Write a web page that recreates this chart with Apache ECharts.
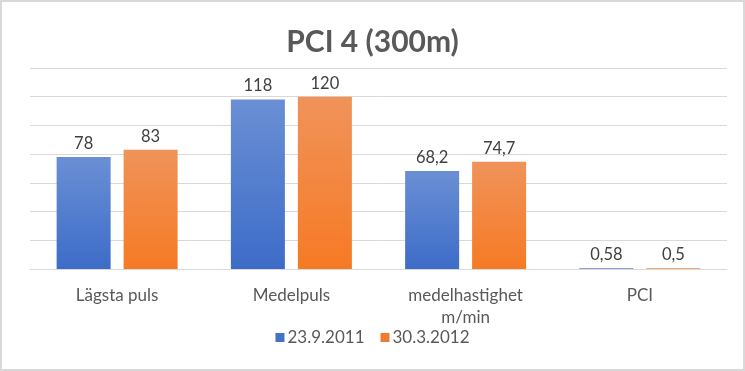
<!DOCTYPE html>
<html><head><meta charset="utf-8">
<script src="https://cdn.jsdelivr.net/npm/echarts@6/dist/echarts.min.js"></script>
<style>html,body{margin:0;padding:0;background:#fff}#c{width:745px;height:371px;box-sizing:border-box;border:2px solid #d9d9d9}</style>
</head><body><div id="c"></div>
<script>
var categories = ['Lägsta puls', 'Medelpuls', 'medelhastighet\nm/min', 'PCI'];
var series1Name = '23.9.2011';
var series2Name = '30.3.2012';
var series1 = [78, 118, 68.2, 0.58];
var series2 = [83, 120, 74.7, 0.5];
var chart = echarts.init(document.getElementById('c'), null, {renderer: 'canvas'});
var font = 'Lato, "Open Sans", sans-serif';
function grad(top, bot) {
  return new echarts.graphic.LinearGradient(0, 0, 0, 1, [{offset: 0, color: top}, {offset: 1, color: bot}]);
}
var lbl = {show: true, position: 'top', distance: 5, color: '#404040', fontSize: 16.5, fontFamily: font,
  formatter: function (p) { return String(p.value).replace('.', ','); }};
chart.setOption({
  animation: false,
  title: {text: 'PCI 4 (300m)', left: 'center', top: 20,
    textStyle: {fontSize: 30, fontWeight: 'bold', color: '#595959', fontFamily: font}},
  legend: {bottom: 18, left: 'center', itemWidth: 9, itemHeight: 9, itemGap: 16, icon: 'rect',
    textStyle: {fontSize: 17, color: '#595959', fontFamily: font, padding: [0, 0, 0, -2]},
    data: [{name: series1Name, itemStyle: {color: '#4472c4'}}, {name: series2Name, itemStyle: {color: '#ed7d31'}}]},
  grid: {left: 28, right: 16, top: 66, bottom: 100},
  xAxis: {type: 'category', data: categories,
    axisLine: {lineStyle: {color: '#d9d9d9'}}, axisTick: {show: false},
    axisLabel: {color: '#595959', fontSize: 17, fontFamily: font, margin: 16, lineHeight: 22}},
  yAxis: {type: 'value', min: 0, max: 140, interval: 20,
    axisLabel: {show: false}, axisLine: {show: false}, axisTick: {show: false},
    splitLine: {lineStyle: {color: '#d9d9d9', width: 1}}},
  series: [
    {name: series1Name, type: 'bar', data: series1, barWidth: '31%', barGap: '24%',
      itemStyle: {color: grad('#6a8fd4', '#3d6cc8')}, label: lbl},
    {name: series2Name, type: 'bar', data: series2, barWidth: '31%', barGap: '24%',
      itemStyle: {color: grad('#f0935a', '#f67a24')}, label: lbl}
  ]
});
</script></body></html>
